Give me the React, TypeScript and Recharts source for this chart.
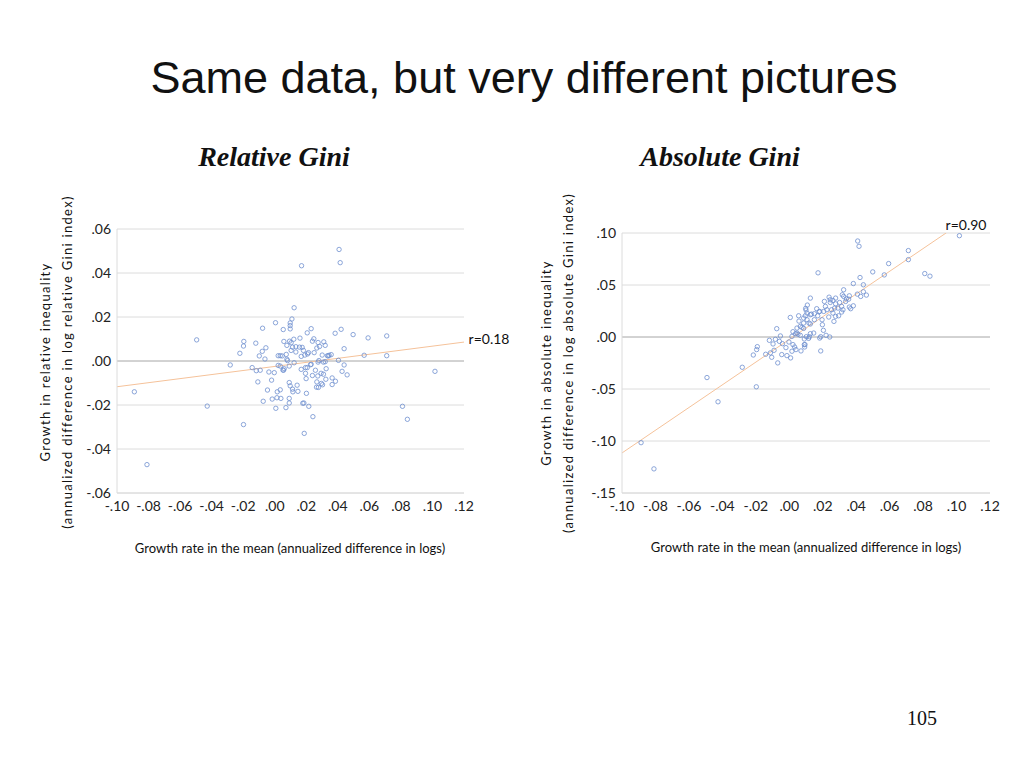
import { ScatterChart, Scatter, XAxis, YAxis, CartesianGrid, ReferenceLine } from "recharts";

// growth in the mean (x) vs growth in relative Gini (y)
const relativePoints: [number, number][] = [
  [0.0408, 0.0507], [0.0415, 0.0447], [0.017, 0.0433], [0.0123, 0.0242], [0.0109, 0.0191],
  [0.0005, 0.0174], [0.0098, 0.0173], [0.0098, 0.0161], [0.0098, 0.0146], [0.0054, 0.0143],
  [-0.0077, 0.0149], [0.0231, 0.0147], [0.0421, 0.0144], [0.0383, 0.0126], [0.0497, 0.012],
  [0.0592, 0.0105], [0.071, 0.0114], [-0.0495, 0.0096], [-0.0196, 0.0089], [-0.0198, 0.0068],
  [-0.0221, 0.0035], [-0.012, 0.0081], [-0.0056, 0.006], [-0.0079, 0.0044], [-0.0098, 0.0023],
  [-0.0062, 0.0009], [-0.0282, -0.0018], [-0.0143, -0.003], [-0.0117, -0.0044], [-0.0092, -0.0042],
  [-0.0107, -0.0095], [-0.0046, -0.0132], [-0.002, -0.0087], [-0.0003, -0.0053], [-0.0073, -0.0183],
  [-0.0016, -0.0173], [0.0007, -0.0215], [0.0014, -0.0167], [0.0016, -0.014], [0.0035, -0.0131],
  [0.0039, -0.017], [0.0071, -0.0212], [0.0092, -0.0191], [0.0092, -0.017], [0.0092, -0.0098],
  [0.0098, -0.0113], [0.0113, -0.0128], [0.0115, -0.014], [0.0142, -0.011], [0.0178, -0.0192],
  [0.0185, -0.0191], [0.0201, -0.0147], [0.0216, -0.0206], [0.0242, -0.0253], [0.0187, -0.0329],
  [-0.0198, -0.0289], [-0.0428, -0.0205], [-0.089, -0.014], [-0.081, -0.0471], [0.081, -0.0206],
  [0.0841, -0.0265], [0.1016, -0.0047], [0.071, 0.0024], [0.0567, 0.0026], [0.044, 0.0056],
  [0.0404, 0.0003], [0.044, -0.0018], [0.0427, -0.0047], [0.0459, -0.0063], [0.0385, -0.0092],
  [0.0364, -0.0077], [0.0364, -0.0107], [0.0324, -0.0083], [0.0303, -0.0108], [0.0296, -0.0102],
  [0.0265, -0.0119], [0.0267, -0.0095], [0.0239, -0.0066], [0.0273, -0.0068], [0.0294, -0.0056],
  [0.0309, -0.006], [0.0326, -0.0035], [0.032, -0.0003], [0.0275, -0.0005], [0.028, 0.0002],
  [0.0258, -0.0042], [0.0227, -0.0017], [0.0195, -0.003], [0.0195, -0.0056], [0.0199, -0.008],
  [0.0168, -0.0038], [0.0123, -0.0008], [0.0092, -0.0023], [0.0077, 0.0008], [0.006, -0.0035],
  [0.0052, -0.0041], [0.0035, -0.0023], [0.0022, 0.0024], [0.0035, 0.0024], [0.0047, 0.0023],
  [0.0073, 0.003], [0.0104, 0.0048], [0.0113, 0.0063], [0.0134, 0.0065], [0.0157, 0.0063],
  [0.0174, 0.0062], [0.0182, 0.0048], [0.0168, 0.0021], [0.0191, 0.0027], [0.0208, 0.0032],
  [0.0214, 0.0038], [0.0239, 0.009], [0.0248, 0.0101], [0.0275, 0.0084], [0.0311, 0.0087],
  [0.032, 0.0071], [0.0284, 0.0066], [0.0267, 0.0059], [0.025, 0.0038], [0.0301, 0.0027],
  [0.0334, 0.0024], [0.0345, 0.0026], [0.0358, 0.0029], [0.0206, 0.0128], [0.016, 0.0104],
  [0.0121, 0.0099], [0.0094, 0.009], [0.0058, 0.0089], [0.0077, 0.0071], [0.0134, 0.0041],
  [0.0206, -0.003], [0.0231, -0.0015], [0.0309, -0.0005], [0.0277, -0.012], [0.0056, -0.0042],
  [-0.0037, -0.005], [0.0147, -0.0138], [0.0022, -0.002], [0.0081, 0.0002], [0.034, 0.0023],
  [0.0104, 0.0083],
];

// growth in the mean (x) vs growth in absolute Gini (y)
const absolutePoints: [number, number][] = [
  [0.1017, 0.0974], [0.0409, 0.0923], [0.0417, 0.0872], [0.0712, 0.0831], [0.0712, 0.0744],
  [0.0594, 0.0706], [0.0499, 0.0626], [0.0568, 0.0597], [0.081, 0.061], [0.0841, 0.0585],
  [0.0172, 0.0617], [0.0423, 0.0572], [0.0383, 0.0514], [0.0443, 0.0502], [0.0407, 0.0412],
  [0.0443, 0.0435], [0.0461, 0.0403], [0.0427, 0.039], [0.0359, 0.0396], [0.0341, 0.0367],
  [0.0317, 0.0406], [0.0325, 0.039], [0.0301, 0.0332], [0.0277, 0.0374], [0.0261, 0.0351],
  [0.0238, 0.0383], [0.021, 0.0342], [0.0245, 0.0332], [0.0126, 0.0374], [0.0108, 0.0307],
  [0.0098, 0.0275], [0.01, 0.0259], [0.0164, 0.0272], [0.0178, 0.0243], [0.015, 0.0224],
  [0.0132, 0.022], [0.0056, 0.0204], [0.0006, 0.0188], [0.0086, 0.0182], [0.0106, 0.0166],
  [0.0118, 0.0134], [0.0086, 0.0134], [0.0058, 0.0153], [0.0066, 0.0102], [0.0046, 0.0086],
  [0.0022, 0.0051], [0.0038, 0.0032], [0.0052, 0.0026], [0.0066, 0.0016], [0.0016, 0.0006],
  [-0.0075, 0.008], [-0.0053, 0.001], [-0.0119, -0.0032], [-0.0083, -0.0022], [-0.0097, -0.0067],
  [-0.0059, -0.0042], [-0.0091, -0.0128], [-0.0113, -0.0153], [-0.0141, -0.0166], [-0.0105, -0.0195],
  [-0.0069, -0.0249], [-0.0045, -0.0169], [-0.002, -0.0102], [-0.0002, -0.0048], [-0.0014, -0.0179],
  [0.0008, -0.0201], [0.0016, -0.0137], [0.0032, -0.0096], [0.004, -0.0121], [0.007, -0.0134],
  [0.0092, -0.0096], [0.0094, -0.0073], [0.009, -0.0019], [0.0102, 0.0003], [0.0116, -0.0013],
  [0.012, 0.0003], [0.0146, 0.0038], [0.0182, -0.001], [0.0188, 0.0003], [0.0204, 0.0064],
  [0.022, 0.0016], [0.0242, 0], [0.0188, -0.0134], [0.0126, 0.0125], [0.0196, 0.0166],
  [0.0198, 0.0118], [0.017, 0.0204], [0.0236, 0.0192], [0.0267, 0.015], [0.0261, 0.023],
  [0.0277, 0.0198], [0.0295, 0.0204], [0.0313, 0.024], [0.0321, 0.0262], [0.0313, 0.0294],
  [0.0359, 0.0288], [0.0367, 0.0272], [0.0383, 0.03], [0.0337, 0.0342], [0.0291, 0.0278],
  [0.0271, 0.0278], [0.0277, 0.0319], [0.0253, 0.0262], [0.0225, 0.0262], [0.0206, 0.0246],
  [0.0182, 0.0246], [0.0126, 0.0214], [0.0096, 0.0204], [0.015, 0.0166], [0.0046, 0.0038],
  [0.0086, 0.0083], [0.0076, 0.0093], [0.0106, 0.023], [0.0216, 0.0294], [0.0245, 0.0358],
  [-0.0281, -0.0291], [-0.0215, -0.0173], [-0.0195, -0.0121], [-0.0191, -0.0093], [-0.0197, -0.0479],
  [-0.0492, -0.039], [-0.0426, -0.0623], [-0.0886, -0.1016], [-0.0809, -0.1268], [0.009, -0.0073],
  [0.0022, -0.0073], [-0.0041, -0.0064], [0.0126, 0.0032], [0.0325, 0.0454], [0.0355, 0.0364],
];

// fitted lines (end points)
const relativeFit = [{ x: -0.1, y: -0.0117 }, { x: 0.12, y: 0.0086 }];
const absoluteFit = [{ x: -0.1, y: -0.1115 }, { x: 0.094, y: 0.1003 }];

const xTicks = [-0.1, -0.08, -0.06, -0.04, -0.02, 0, 0.02, 0.04, 0.06, 0.08, 0.1, 0.12];
const relativeYTicks = [-0.06, -0.04, -0.02, 0, 0.02, 0.04, 0.06];
const absoluteYTicks = [-0.15, -0.1, -0.05, 0, 0.05, 0.1];

const fmt = (v: number) => v.toFixed(2).replace("0.", ".");
const toRows = (pts: [number, number][]) => pts.map(([x, y]) => ({ x, y }));

const dotColor = "#6f8fcf";
const grid = "#dcdcdc";
const tickStyle = { fontFamily: "Lato", fontSize: 14, fill: "#222" };

const Dot = (p: any) => (
  <circle cx={p.cx} cy={p.cy} r={2.2} fill="none" stroke={dotColor} strokeWidth={0.8} />
);

const Txt = ({ x, y, rot, style, children }: any) => (
  <div
    style={{
      position: "absolute",
      left: x,
      top: y,
      transform: `translate(-50%,-50%)${rot ? " rotate(-90deg)" : ""}`,
      whiteSpace: "nowrap",
      ...style,
    }}
  >
    {children}
  </div>
);

const Panel = ({ data, fit, yTicks, yDomain, margin }: any) => (
  <ScatterChart width={520} height={300} margin={margin}>
    <CartesianGrid horizontal vertical={false} stroke={grid} />
    <XAxis
      type="number"
      dataKey="x"
      domain={[-0.1, 0.12]}
      ticks={xTicks}
      tickFormatter={fmt}
      tick={tickStyle}
      tickLine={false}
      axisLine={{ stroke: grid }}
      height={27}
      interval={0}
    />
    <YAxis
      type="number"
      dataKey="y"
      domain={yDomain}
      ticks={yTicks}
      tickFormatter={fmt}
      tick={tickStyle}
      tickLine={false}
      tickMargin={0}
      axisLine={{ stroke: grid }}
      width={40}
      interval={0}
    />
    <ReferenceLine y={0} stroke="#b8b8b8" />
    <ReferenceLine segment={fit} stroke="#f5c29a" strokeWidth={1} ifOverflow="hidden" />
    <Scatter data={data} shape={Dot} isAnimationActive={false} />
  </ScatterChart>
);

const labelFont = { fontFamily: "Lato", fontSize: 13, letterSpacing: 1.3, color: "#111" };
const xLabelFont = { fontFamily: "Lato", fontSize: 13, color: "#111" };
const giniFont = {
  fontFamily: "Liberation Serif",
  fontStyle: "italic",
  fontWeight: "bold",
  fontSize: 28,
  color: "#111",
};

export default function App() {
  return (
    <div
      style={{
        position: "absolute",
        left: 0,
        top: 0,
        width: 1024,
        height: 768,
        background: "#fff",
        overflow: "hidden",
      }}
    >
      <Txt x={524} y={78} style={{ fontFamily: "Liberation Sans", fontSize: 45, color: "#111" }}>
        Same data, but very different pictures
      </Txt>
      <Txt x={274} y={157} style={giniFont}>Relative Gini</Txt>
      <Txt x={720} y={157} style={giniFont}>Absolute Gini</Txt>

      <div style={{ position: "absolute", left: 0, top: 220 }}>
        <Panel
          data={toRows(relativePoints)}
          fit={relativeFit}
          yTicks={relativeYTicks}
          yDomain={[-0.06, 0.06]}
          margin={{ top: 9, right: 56, bottom: 0, left: 77 }}
        />
      </div>
      <div style={{ position: "absolute", left: 500, top: 220 }}>
        <Panel
          data={toRows(absolutePoints)}
          fit={absoluteFit}
          yTicks={absoluteYTicks}
          yDomain={[-0.15, 0.1]}
          margin={{ top: 13, right: 30, bottom: 0, left: 82 }}
        />
      </div>

      <Txt x={489} y={338} style={{ ...xLabelFont, fontSize: 14 }}>r=0.18</Txt>
      <Txt x={966} y={224} style={{ ...xLabelFont, fontSize: 14 }}>r=0.90</Txt>

      <Txt x={45} y={362} rot style={labelFont}>Growth in relative inequality</Txt>
      <Txt x={67} y={362} rot style={labelFont}>(annualized difference in log relative Gini index)</Txt>
      <Txt x={546} y={363} rot style={labelFont}>Growth in absolute inequality</Txt>
      <Txt x={568} y={363} rot style={labelFont}>(annualized difference in log absolute Gini index)</Txt>

      <Txt x={290} y={548} style={xLabelFont}>Growth rate in the mean (annualized difference in logs)</Txt>
      <Txt x={806} y={547} style={xLabelFont}>Growth rate in the mean (annualized difference in logs)</Txt>

      <Txt x={922} y={718} style={{ fontFamily: "Liberation Serif", fontSize: 20, color: "#111" }}>105</Txt>
    </div>
  );
}
